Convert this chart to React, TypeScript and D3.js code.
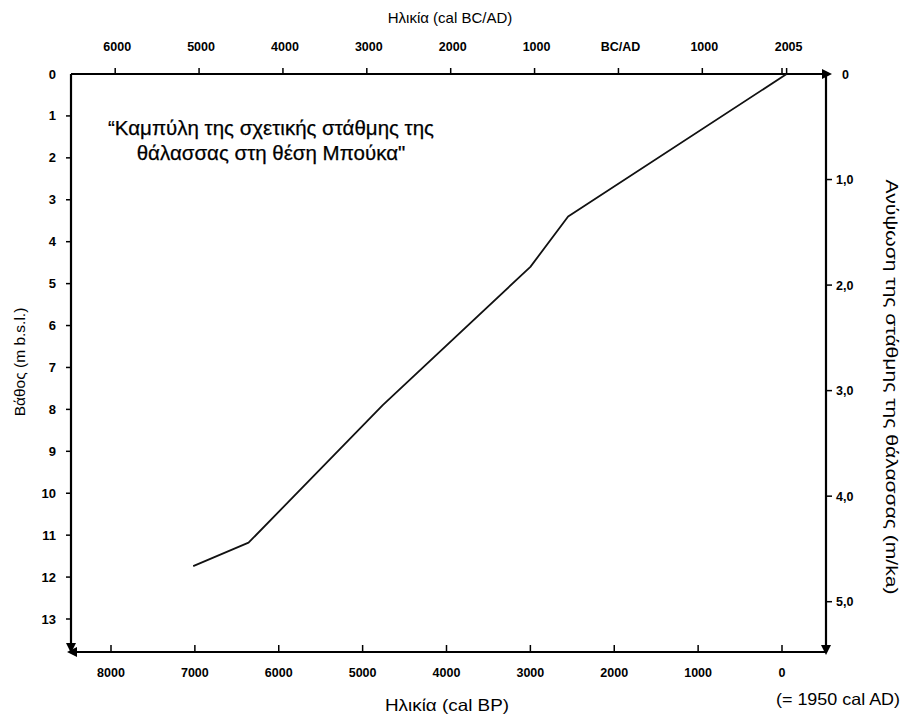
import React from "react";
import * as d3 from "d3";

// Data: age (cal BP) vs depth (m b.s.l.)
const ageBP = [7020, 6360, 4760, 3000, 2550, -55];
const depth = [11.74, 11.18, 7.9, 4.6, 3.4, 0];

// Tick values
const bottomTicks = [8000, 7000, 6000, 5000, 4000, 3000, 2000, 1000, 0];
const topYears = [-6000, -5000, -4000, -3000, -2000, -1000, 0, 1000, 2005];
const topLabels = ["6000", "5000", "4000", "3000", "2000", "1000", "BC/AD", "1000", "2005"];
const leftTicks = [0, 1, 2, 3, 4, 5, 6, 7, 8, 9, 10, 11, 12, 13];
const rightTicks = [0, 1, 2, 3, 4, 5];
const rightLabels = ["0", "1,0", "2,0", "3,0", "4,0", "5,0"];

const W = 903;
const H = 717;
const X0 = 71;
const X1 = 826;
const Y0 = 74;
const Y1 = 652;

export default function App() {
  const x = d3.scaleLinear().domain([0, 8000]).range([782, 111]);
  const y = d3.scaleLinear().domain([0, 13]).range([Y0, 619]);
  const r = d3.scaleLinear().domain([0, 5]).range([Y0, 601.7]);
  const yearToBP = (yr: number) => 1950 - yr;

  const pts: [number, number][] = ageBP.map((a, i) => [a, depth[i]]);
  const line = d3
    .line<[number, number]>()
    .x((d) => x(d[0]))
    .y((d) => y(d[1]));

  const font = "'Liberation Sans', Arial, sans-serif";
  const tickFont = { fontFamily: font, fontSize: 12.5, fontWeight: 700 as const };

  return (
    <svg
      width={W}
      height={H}
      style={{ position: "absolute", left: 0, top: 0, background: "#fff" }}
      fontFamily={font}
    >
      {/* axes lines */}
      <g stroke="#000" strokeWidth={2.2} fill="none">
        <line x1={X0} y1={Y0} x2={X1} y2={Y0} />
        <line x1={X0} y1={Y0} x2={X0} y2={Y1} />
        <line x1={X1} y1={Y0} x2={X1} y2={Y1} />
        <line x1={X0} y1={Y1} x2={X1} y2={Y1} />
      </g>
      {/* arrowheads */}
      <g fill="#000">
        <path d={`M${X1 + 6},${Y0} L${X1 - 4},${Y0 - 5} L${X1 - 4},${Y0 + 5} Z`} />
        <path d={`M${X1},${Y1 + 3} L${X1 - 5},${Y1 - 7} L${X1 + 5},${Y1 - 7} Z`} />
        <path d={`M${X0},${Y1 + 1} L${X0 - 5},${Y1 - 9} L${X0 + 5},${Y1 - 9} Z`} />
        <path d={`M${X0 - 4},${Y1} L${X0 + 6},${Y1 - 5} L${X0 + 6},${Y1 + 5} Z`} />
      </g>

      {/* bottom axis ticks (inward) */}
      <g>
        {bottomTicks.map((t) => (
          <g key={"b" + t}>
            <line x1={x(t)} x2={x(t)} y1={Y1} y2={Y1 - 7} stroke="#000" strokeWidth={1.5} />
            <text x={x(t)} y={677} textAnchor="middle" {...tickFont}>
              {t}
            </text>
          </g>
        ))}
      </g>

      {/* top axis ticks (outward) */}
      <g>
        {topYears.map((t, i) => (
          <g key={"t" + i}>
            <line
              x1={x(yearToBP(t))}
              x2={x(yearToBP(t))}
              y1={Y0}
              y2={Y0 - 6}
              stroke="#000"
              strokeWidth={1.5}
            />
            <text x={x(yearToBP(t)) + 2} y={51} textAnchor="middle" {...tickFont}>
              {topLabels[i]}
            </text>
          </g>
        ))}
        <line
          x1={x(yearToBP(1950))}
          x2={x(yearToBP(1950))}
          y1={Y0}
          y2={Y0 - 6}
          stroke="#000"
          strokeWidth={1.5}
        />
      </g>

      {/* left axis ticks (outward) */}
      <g>
        {leftTicks.map((t) => (
          <g key={"l" + t}>
            {t > 0 && (
              <line x1={X0} x2={X0 - 5} y1={y(t)} y2={y(t)} stroke="#000" strokeWidth={1.5} />
            )}
            <text x={56} y={y(t) + 4.5} textAnchor="end" {...tickFont} fontSize={13}>
              {t}
            </text>
          </g>
        ))}
      </g>

      {/* right axis ticks (outward) */}
      <g>
        {rightTicks.map((t, i) => (
          <g key={"r" + t}>
            {t > 0 && (
              <line x1={X1} x2={X1 + 6} y1={r(t)} y2={r(t)} stroke="#000" strokeWidth={1.5} />
            )}
            <text x={t > 0 ? 836 : 842} y={r(t) + 4.5} textAnchor="start" {...tickFont}>
              {rightLabels[i]}
            </text>
          </g>
        ))}
      </g>

      {/* data line */}
      <path d={line(pts) || ""} fill="none" stroke="#111" strokeWidth={1.8} strokeLinejoin="round" />

      {/* axis titles */}
      <text x={450} y={23} textAnchor="middle" fontSize={15}>
        Ηλικία (cal BC/AD)
      </text>
      <text x={447} y={711} textAnchor="middle" fontSize={16.5} textLength={124} lengthAdjust="spacingAndGlyphs">
        Ηλικία (cal BP)
      </text>
      <text x={838} y={705} textAnchor="middle" fontSize={16.5} textLength={124} lengthAdjust="spacingAndGlyphs">
        (= 1950 cal AD)
      </text>
      <text
        transform={`translate(25,362) rotate(-90)`}
        textAnchor="middle"
        fontSize={15.5}
      >
        Βάθος (m b.s.l.)
      </text>
      <text
        transform={`translate(886,387) rotate(90)`}
        textAnchor="middle"
        fontSize={16}
        textLength={415}
        lengthAdjust="spacingAndGlyphs"
      >
        Ανύψωση της στάθμης της θάλασσας (m/ka)
      </text>

      {/* chart title */}
      <text x={271} y={135} textAnchor="middle" fontSize={20.5} stroke="#000" strokeWidth={0.25}>
        “Καμπύλη της σχετικής στάθμης της
      </text>
      <text x={271} y={160} textAnchor="middle" fontSize={20.5} stroke="#000" strokeWidth={0.25}>
        θάλασσας στη θέση Μπούκα"
      </text>
    </svg>
  );
}
